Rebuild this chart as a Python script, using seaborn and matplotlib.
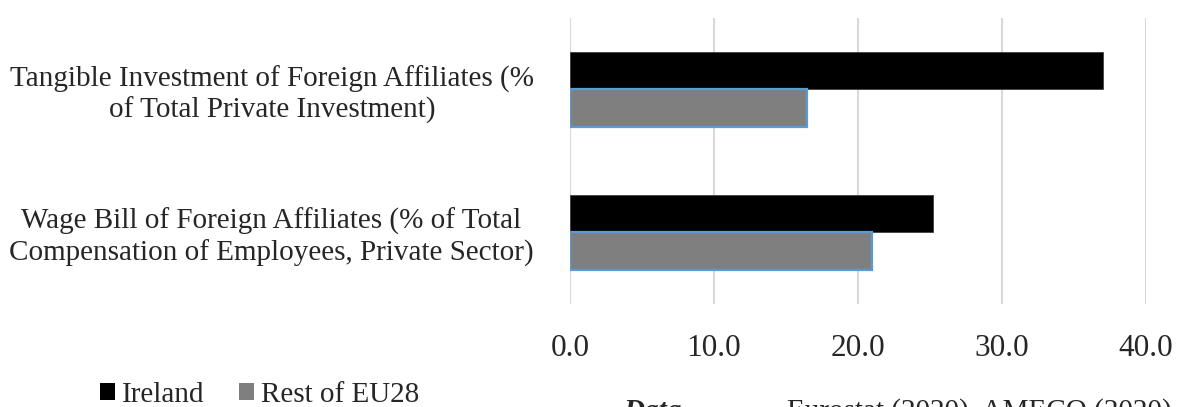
import matplotlib
matplotlib.use("Agg")
import matplotlib.pyplot as plt
import seaborn as sns
import pandas as pd
from matplotlib.patches import Patch

categories = [
    "Tangible Investment of Foreign Affiliates (%\nof Total Private Investment)",
    "Wage Bill of Foreign Affiliates (% of Total\nCompensation of Employees, Private Sector)",
]
series = ["Ireland", "Rest of EU28"]
ireland = [37.0, 25.2]
rest_eu = [16.5, 21.0]
x_ticks = [0, 10, 20, 30, 40]
x_tick_labels = ["0.0", "10.0", "20.0", "30.0", "40.0"]

df = pd.DataFrame({
    "category": categories * 2,
    "series": [series[0]] * 2 + [series[1]] * 2,
    "value": ireland + rest_eu,
})

sns.set_theme(style="white")
plt.rcParams["font.family"] = ["Liberation Serif", "DejaVu Serif"]
FS = 21

W, H = 1177, 407
fig = plt.figure(figsize=(W / 100, H / 100), dpi=100)
ax = fig.add_axes([570 / W, 1 - 303.5 / H, (1145.7 - 570) / W, (303.5 - 18) / H])

fills = {"Ireland": "#000000", "Rest of EU28": "#7f7f7f"}
sns.barplot(data=df, y="category", x="value", hue="series", order=categories,
            hue_order=series, palette=fills, orient="h", width=0.525,
            dodge=True, saturation=1, legend=False, ax=ax, zorder=3)

edges = ["#3f3f3f", "#5b9bd5"]
lws = [0.6, 1.6]
for cont, ec, lw in zip(ax.containers, edges, lws):
    for bar in cont:
        bar.set_edgecolor(ec)
        bar.set_linewidth(lw)

ax.set_xlim(0, 40)
ax.set_ylim(1.5, -0.5)
ax.set_xticks(x_ticks)
ax.set_xticklabels(x_tick_labels, fontsize=22.5)
ax.xaxis.grid(True, color="#d9d9d9", linewidth=1.5, zorder=0)
ax.yaxis.grid(False)
for s in ax.spines.values():
    s.set_visible(False)
ax.tick_params(axis="x", length=0, pad=22)
ax.tick_params(axis="y", length=0, pad=26)
for lab in ax.get_yticklabels():
    lab.set_fontsize(FS)
    lab.set_multialignment("center")
ax.set_xlabel("")
ax.set_ylabel("")

handles = [Patch(facecolor=fills[s], edgecolor="none") for s in series]
fig.legend(handles, series, loc="center left", bbox_to_anchor=(100 / W, 1 - 395 / H),
           ncol=2, frameon=False, fontsize=FS, handlelength=0.5, handleheight=0.5,
           handletextpad=0.25, columnspacing=1.2, borderaxespad=0, borderpad=0)

fig.text(623 / W, 1 - 398 / H, "Data", fontsize=FS, fontweight="bold",
         fontstyle="italic", ha="left", va="top")
fig.text(787 / W, 1 - 398 / H, "Eurostat (2020), AMECO (2020)", fontsize=FS,
         ha="left", va="top")

fig.savefig("out.png", dpi=100)
